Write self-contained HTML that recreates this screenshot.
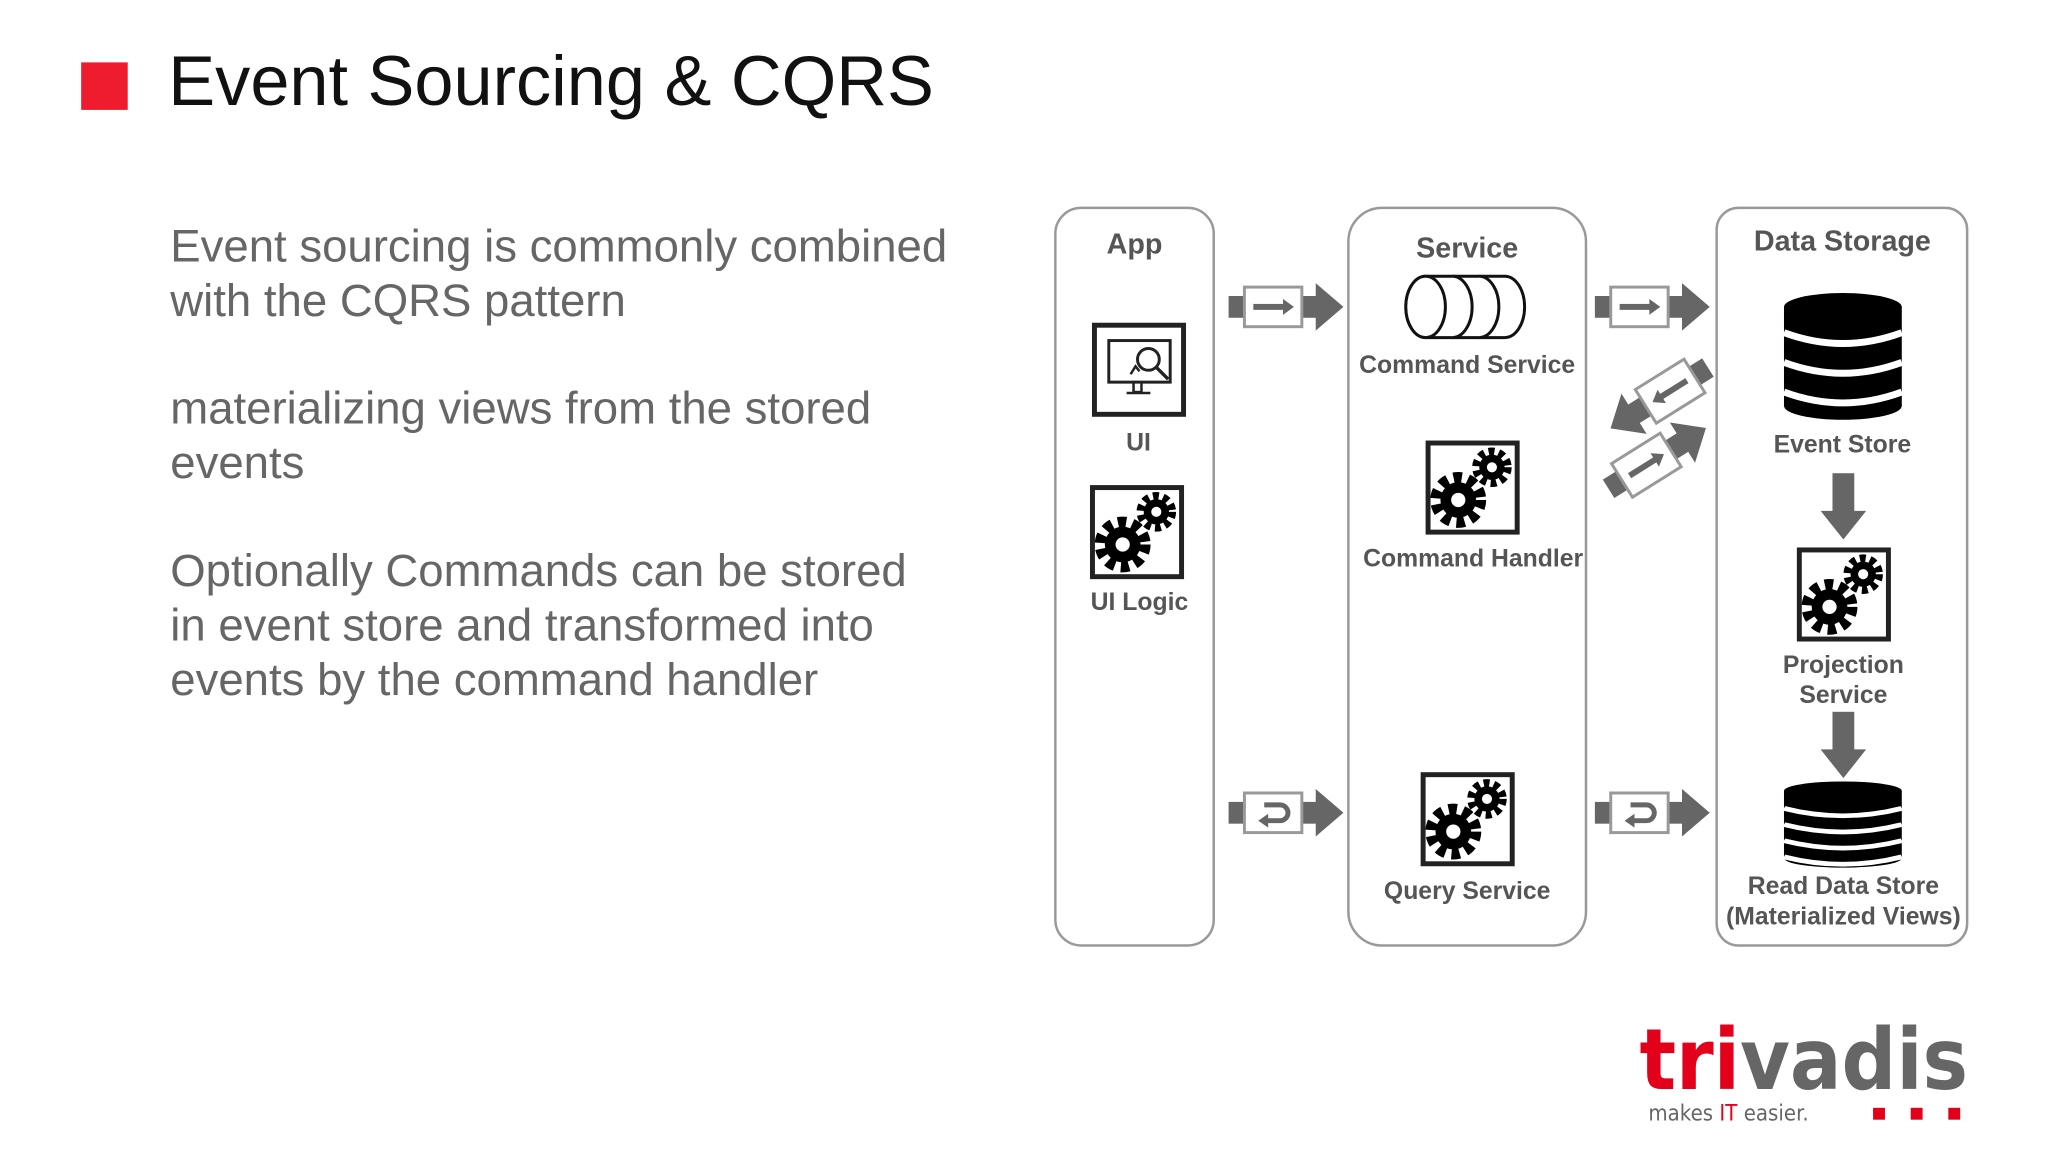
<!DOCTYPE html>
<html><head><meta charset="utf-8"><style>
html,body{margin:0;padding:0;background:#fff;}
svg{display:block;}
</style></head><body>
<svg width="2048" height="1152" viewBox="0 0 2048 1152" xmlns="http://www.w3.org/2000/svg" font-family="Liberation Sans, sans-serif">
<defs>
  <g id="conn">
    <rect x="0" y="-11" width="92" height="22" fill="#666"/>
    <rect x="16" y="-20" width="58" height="40" fill="#fff" stroke="#999" stroke-width="3"/>
    <polygon points="88,-24 116,0 88,24" fill="#666"/>
  </g>
  <g id="arrR"><rect x="25" y="-3" width="32" height="6" fill="#666"/><polygon points="55,-8 66,0 55,8" fill="#666"/></g>
  <g id="arrU">
    <path d="M36,-8 H52 a8,8 0 0 1 0,16 H38" fill="none" stroke="#666" stroke-width="5"/>
    <polygon points="40,1 30,8 40,15" fill="#666"/>
  </g>
  <g id="gear1">
    <circle r="15" fill="#000"/>
    <circle r="19" fill="none" stroke="#000" stroke-width="9" stroke-dasharray="7 5.2"/>
    <circle r="6" fill="#fff"/>
  </g>
  <g id="gearbox">
    <rect x="2.5" y="2.5" width="90" height="90" fill="#fff" stroke="#222" stroke-width="5"/>
    <g transform="translate(33,60) scale(1.2)"><use href="#gear1"/></g>
    <g transform="translate(67,27) scale(0.85)"><use href="#gear1"/></g>
  </g>
  <g id="db">
    <rect x="0" y="16" width="119" height="100" fill="#000"/>
    <ellipse cx="59.5" cy="116" rx="59.5" ry="14" fill="#000"/>
    <ellipse cx="59.5" cy="16" rx="59.5" ry="14" fill="#000"/>
  </g>
</defs>

<g transform="scale(0.99)">
<!-- title -->
<rect x="82" y="63" width="47" height="48" fill="#ed1c2e"/>
<text x="170" y="106" font-size="71" fill="#111">Event Sourcing &amp; CQRS</text>

<!-- body text -->
<g font-size="46" fill="#666">
<text x="172" y="264">Event sourcing is commonly combined</text>
<text x="172" y="319">with the CQRS pattern</text>
<text x="172" y="428">materializing views from the stored</text>
<text x="172" y="483">events</text>
<text x="172" y="592">Optionally Commands can be stored</text>
<text x="172" y="647">in event store and transformed into</text>
<text x="172" y="702">events by the command handler</text>
</g>

<!-- panels -->
<g fill="#fff" stroke="#999" stroke-width="2.5">
<rect x="1066" y="210" width="160" height="745" rx="26"/>
<rect x="1362" y="210" width="240" height="745" rx="34"/>
<rect x="1734" y="210" width="253" height="745" rx="22"/>
</g>

<g font-weight="bold" fill="#555" text-anchor="middle">
<text x="1146" y="256" font-size="29">App</text>
<text x="1482" y="260" font-size="29">Service</text>
<text x="1861" y="253" font-size="29">Data Storage</text>
<g font-size="25">
<text x="1150" y="455">UI</text>
<text x="1151" y="616">UI Logic</text>
<text x="1482" y="377">Command Service</text>
<text x="1488" y="572">Command Handler</text>
<text x="1482" y="908">Query Service</text>
<text x="1861" y="457">Event Store</text>
<text x="1862" y="680">Projection</text>
<text x="1862" y="710">Service</text>
<text x="1862" y="903">Read Data Store</text>
<text x="1862" y="934">(Materialized Views)</text>
</g>
</g>

<!-- UI icon -->
<rect x="1105.5" y="328.5" width="90" height="90" fill="#fff" stroke="#222" stroke-width="5"/>
<rect x="1120" y="344" width="62" height="42" fill="#fff" stroke="#222" stroke-width="3"/>
<rect x="1145" y="386" width="8" height="10" fill="none" stroke="#222" stroke-width="2.5"/>
<line x1="1138" y1="397" x2="1162" y2="397" stroke="#222" stroke-width="2.5"/>
<circle cx="1160" cy="363" r="11" fill="#fff" stroke="#222" stroke-width="3"/>
<line x1="1168" y1="371" x2="1180" y2="383" stroke="#222" stroke-width="3.5"/>
<path d="M1142 378 l5 -8 l4 5" fill="none" stroke="#222" stroke-width="2.5"/>

<!-- gear boxes -->
<use href="#gearbox" transform="translate(1101,490)"/>
<use href="#gearbox" transform="translate(1440,445)"/>
<use href="#gearbox" transform="translate(1435,780)"/>
<use href="#gearbox" transform="translate(1815,553)"/>

<!-- cylinder queue icon -->
<g fill="#fff" stroke="#111" stroke-width="3">
<path d="M1520,279 a20,31 0 0 1 0,62 H1440 a20,31 0 0 1 0,-62 Z"/>
<ellipse cx="1440" cy="310" rx="20" ry="31"/>
<path d="M1467,279 a20,31 0 0 1 0,62"/>
<path d="M1494,279 a20,31 0 0 1 0,62"/>
</g>

<!-- DBs -->
<g transform="translate(1802,294)">
  <use href="#db"/>
  <g fill="none" stroke="#fff" stroke-width="7">
    <path d="M0,42 Q59.5,64 119,42"/><path d="M0,72 Q59.5,94 119,72"/><path d="M0,102 Q59.5,124 119,102"/>
  </g>
</g>
<g transform="translate(1802,788) scale(1,0.68)">
  <use href="#db"/>
  <g fill="none" stroke="#fff" stroke-width="7">
    <path d="M0,42 Q59.5,64 119,42"/><path d="M0,66 Q59.5,88 119,66"/><path d="M0,90 Q59.5,112 119,90"/><path d="M0,114 Q59.5,136 119,114"/>
  </g>
</g>

<!-- vertical arrows -->
<g fill="#666">
<rect x="1851" y="478" width="22" height="40"/><polygon points="1839,516 1885,516 1862,545"/>
<rect x="1851" y="719" width="22" height="40"/><polygon points="1839,757 1885,757 1862,786"/>
</g>

<!-- connectors -->
<g transform="translate(1241,310)"><use href="#conn"/><use href="#arrR"/></g>
<g transform="translate(1611,310)"><use href="#conn"/><use href="#arrR"/></g>
<g transform="translate(1241,821)"><use href="#conn"/><use href="#arrU"/></g>
<g transform="translate(1611,821)"><use href="#conn"/><use href="#arrU"/></g>
<g transform="translate(1676,402) rotate(148) translate(-58,0)"><use href="#conn"/><use href="#arrR"/></g>
<g transform="translate(1674,463) rotate(-32) translate(-58,0)"><use href="#conn"/><use href="#arrR"/></g>

<!-- logo -->
<g font-family="DejaVu Sans, Liberation Sans, sans-serif" font-weight="bold" font-size="86">
<text x="1656" y="1100" textLength="332" lengthAdjust="spacingAndGlyphs"><tspan fill="#e2001a">tri</tspan><tspan fill="#666">vadis</tspan></text>
</g>
<text x="1665" y="1132" font-size="22" fill="#666" font-family="DejaVu Sans, sans-serif" textLength="162" lengthAdjust="spacingAndGlyphs">makes <tspan fill="#e2001a">IT</tspan> easier.</text>
<g fill="#e2001a">
<rect x="1892" y="1119" width="12" height="12"/><rect x="1930" y="1119" width="12" height="12"/><rect x="1968" y="1119" width="12" height="12"/>
</g>
</g>
</svg>
</body></html>
